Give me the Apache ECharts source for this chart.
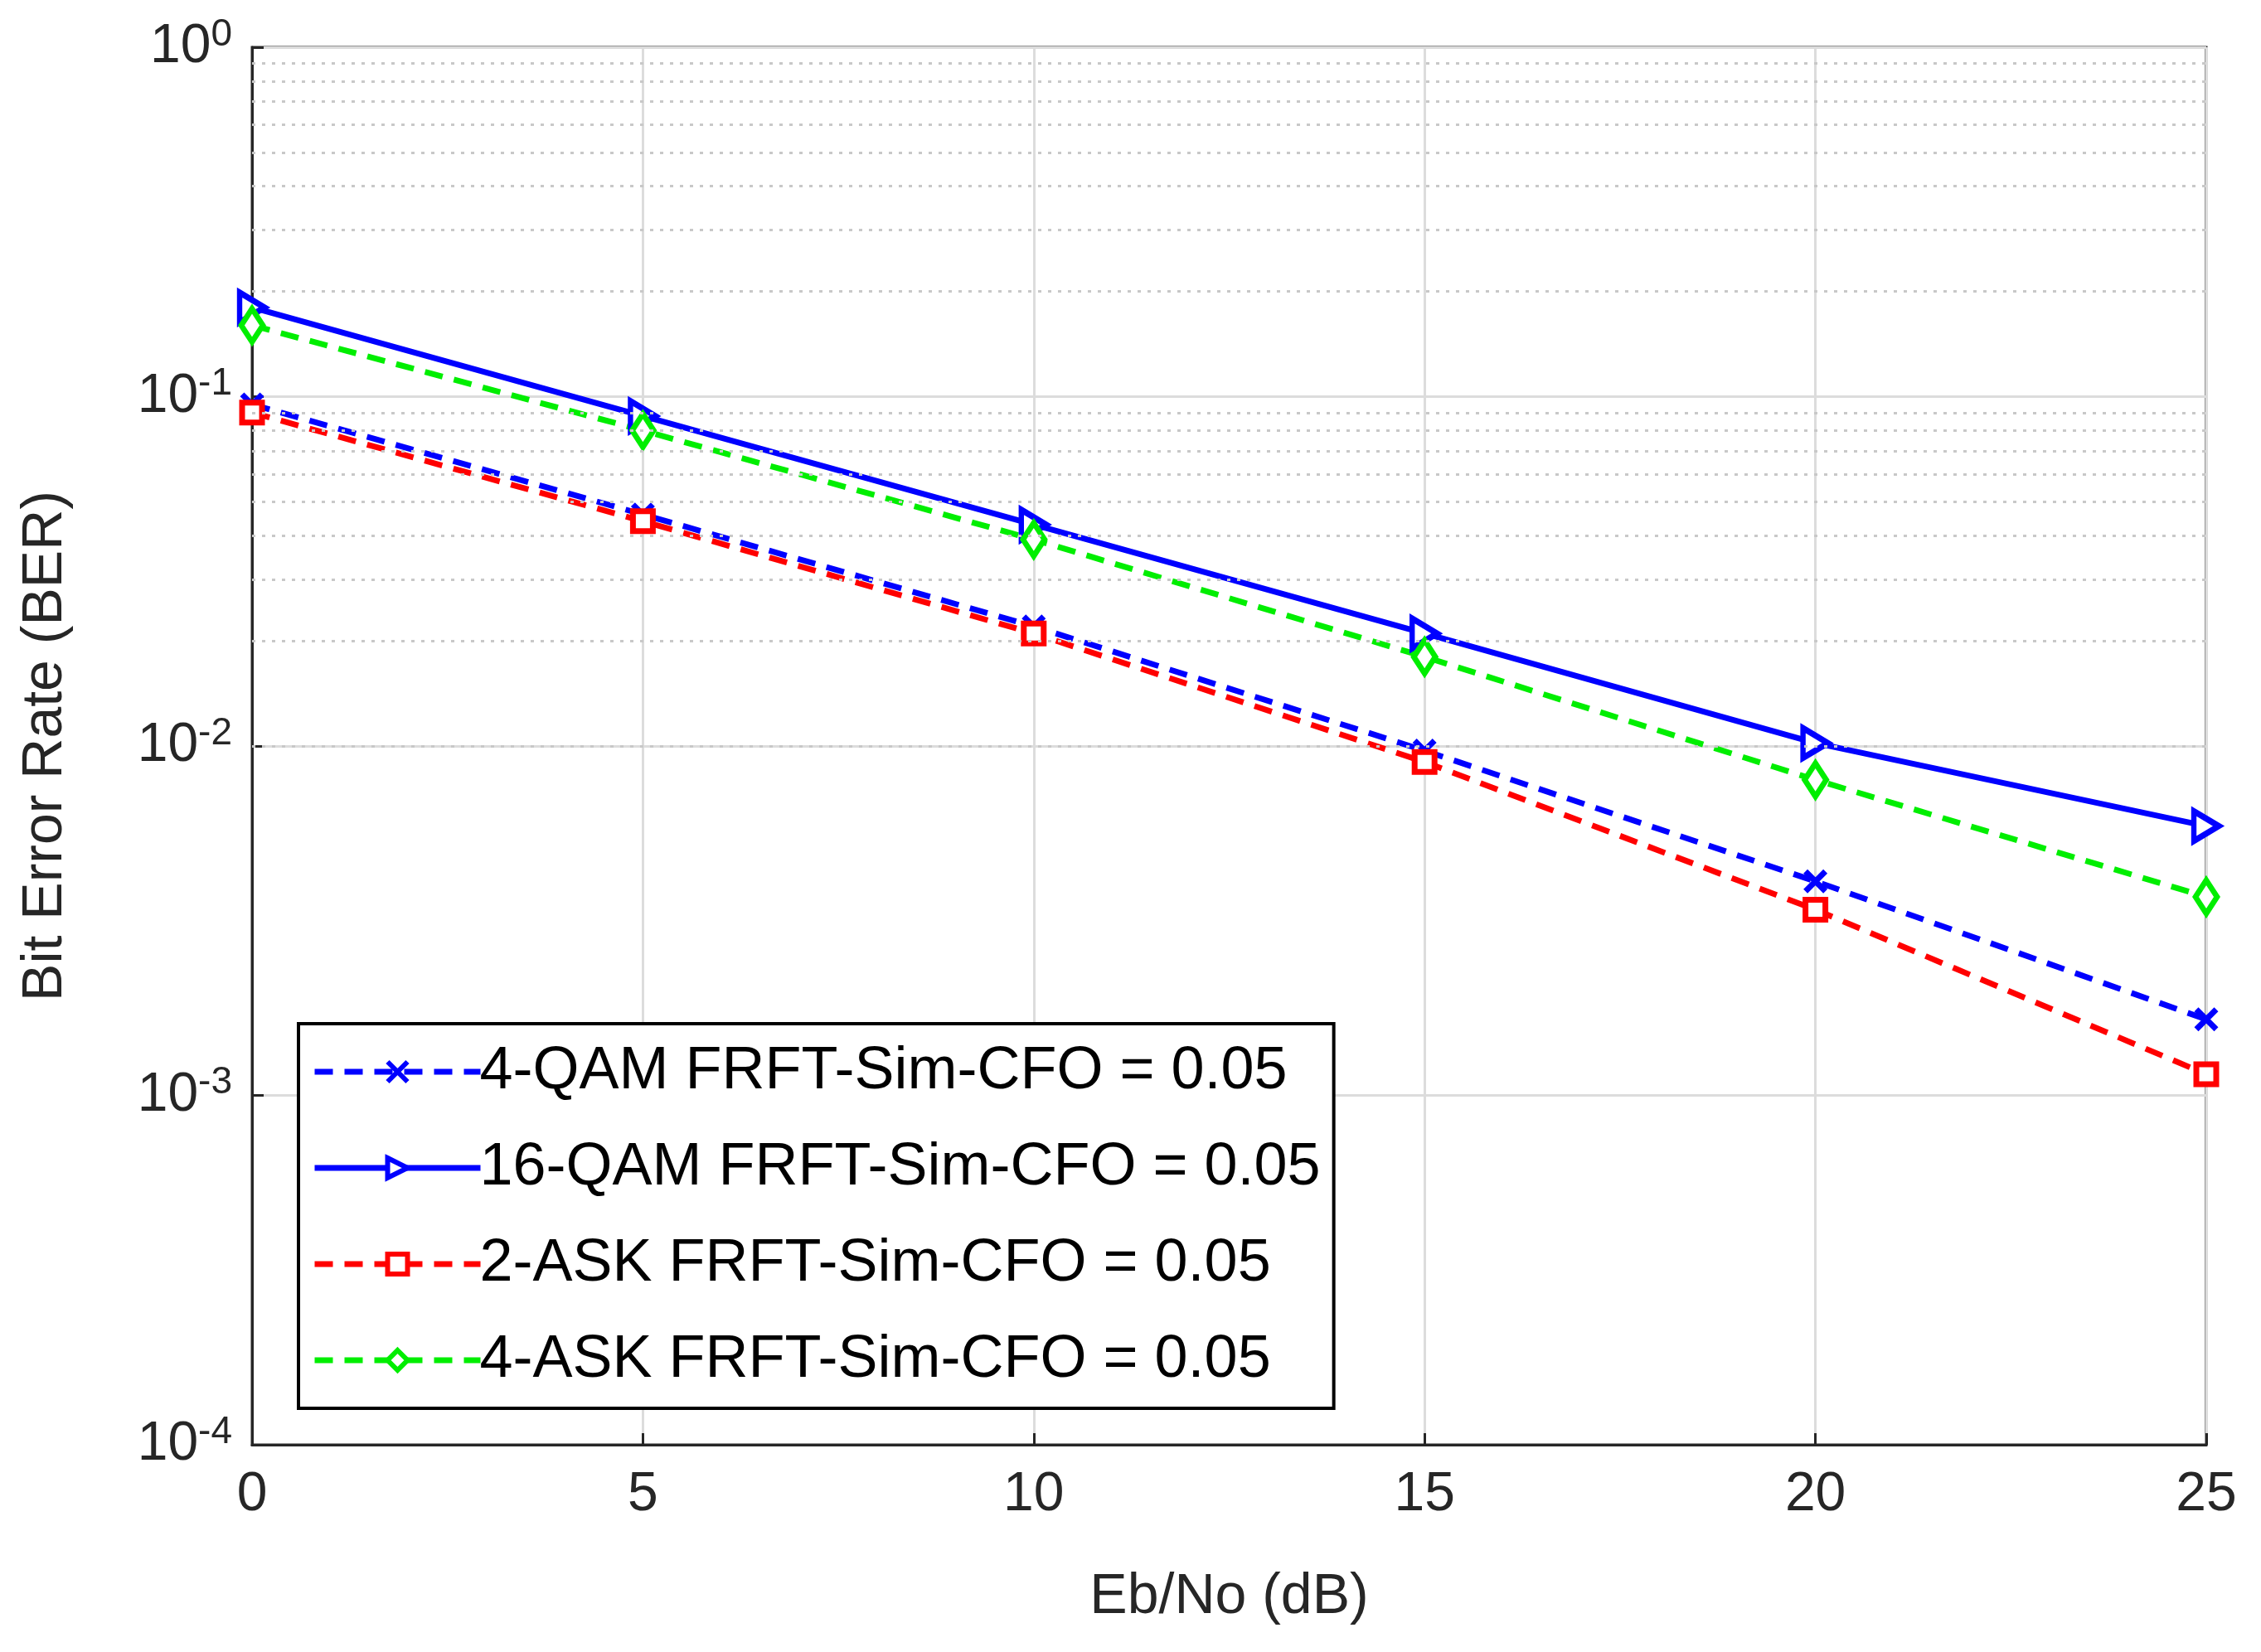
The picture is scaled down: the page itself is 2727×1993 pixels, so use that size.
<!DOCTYPE html>
<html><head><meta charset="utf-8">
<script src="https://cdn.jsdelivr.net/npm/echarts@6/dist/echarts.min.js"></script>
<style>html,body{margin:0;background:#fff}#c{width:2727px;height:1993px}</style>
</head><body><div id="c"></div>
<script>
// Eb/No em dB e BER de cada curva
const ebno = [0, 5, 10, 15, 20, 25];
const qam4 = [0.095, 0.046, 0.022, 0.0097, 0.0041, 0.00165];
const qam16 = [0.18, 0.088, 0.043, 0.021, 0.0102, 0.0059];
const ask2 = [0.09, 0.044, 0.021, 0.009, 0.0034, 0.00115];
const ask4 = [0.16, 0.08, 0.039, 0.018, 0.008, 0.0037];
const nomes = ["4-QAM FRFT-Sim-CFO = 0.05", "16-QAM FRFT-Sim-CFO = 0.05", "2-ASK FRFT-Sim-CFO = 0.05", "4-ASK FRFT-Sim-CFO = 0.05"];

const FONTE = "Liberation Sans, Arial, sans-serif";
const menores = [];
for (let e = -4; e < 0; e++) for (let k = 2; k <= 9; k++) menores.push({ yAxis: k * Math.pow(10, e) });

function serie(nome, dados, cor, simbolo, tracejado, tam, preench) {
  return {
    name: nome, type: "line", data: ebno.map((x, i) => [x, dados[i]]),
    symbol: simbolo, symbolSize: tam,
    lineStyle: { color: cor, width: 7, type: tracejado ? [22, 14] : "solid" },
    itemStyle: { color: preench, borderColor: cor, borderWidth: 7 },
  };
}

const g = echarts.init(document.getElementById("c"));
g.setOption({
  animation: false,
  textStyle: { fontFamily: FONTE },
  grid: { left: 304, right: 66, top: 57, bottom: 250, show: true, borderColor: "#262626", borderWidth: 3 },
  xAxis: {
    type: "value", min: 0, max: 25, interval: 5,
    name: "Eb/No (dB)", nameLocation: "middle", nameGap: 150,
    nameTextStyle: { fontSize: 68, color: "#262626", fontFamily: FONTE },
    axisLabel: { fontSize: 66, color: "#262626", margin: 28 },
    axisLine: { lineStyle: { color: "#262626", width: 3 } },
    axisTick: { inside: true, length: 14, lineStyle: { color: "#262626", width: 3 } },
    splitLine: { lineStyle: { color: "#dcdcdc", width: 3 } },
  },
  yAxis: {
    type: "log", logBase: 10, min: 0.0001, max: 1,
    name: "Bit Error Rate (BER)", nameLocation: "middle", nameGap: 215,
    nameTextStyle: { fontSize: 68, color: "#262626", fontFamily: FONTE },
    axisLabel: {
      color: "#262626", margin: 24,
      formatter: v => "{b|10}{s|" + Math.round(Math.log10(v)) + "}",
      rich: { b: { fontSize: 66, color: "#262626" }, s: { fontSize: 46, color: "#262626", verticalAlign: "top", padding: [0, 0, 30, 0] } },
    },
    axisLine: { lineStyle: { color: "#262626", width: 3 } },
    axisTick: { inside: true, length: 14, lineStyle: { color: "#262626", width: 3 } },
    splitLine: { lineStyle: { color: "#dcdcdc", width: 3 } },
  },
  legend: {
    orient: "vertical", left: 360, top: 1235,
    padding: [22, 16, 22, 16], itemGap: 44, itemWidth: 200, itemHeight: 30,
    backgroundColor: "#fff", borderColor: "#000", borderWidth: 4,
    lineStyle: { width: 7 }, itemStyle: { borderWidth: 6 },
    textStyle: { fontSize: 72, color: "#000", fontFamily: FONTE, padding: [0, 0, 0, -6] },
    data: nomes,
  },
  series: [
    serie(nomes[0], qam4, "#0000ff", "path://M0,0L10,10M10,0L0,10", true, 24, "none"),
    serie(nomes[1], qam16, "#0000ff", "path://M0,0L10,5L0,10Z", false, [30, 36], "#fff"),
    serie(nomes[2], ask2, "#ff0000", "path://M0,0H10V10H0Z", true, 24, "#fff"),
    serie(nomes[3], ask4, "#00ee00", "path://M5,0L10,5L5,10L0,5Z", true, [26, 40], "#fff"),
    {
      type: "line", data: [], silent: true,
      markLine: { symbol: "none", silent: true, label: { show: false },
        lineStyle: { color: "#c8c8c8", width: 3, type: [4, 8] }, data: menores },
    },
  ],
});
</script>
</body></html>
